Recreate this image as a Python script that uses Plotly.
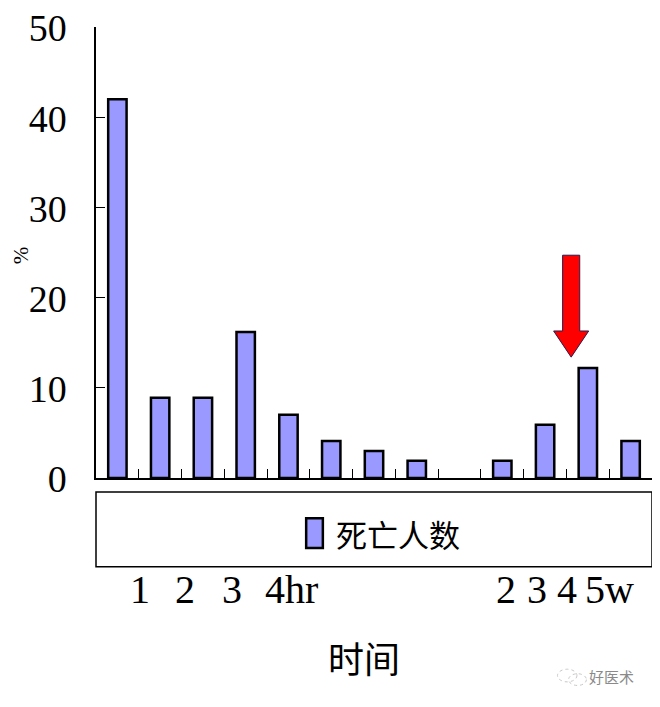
import plotly.graph_objects as go

# bar values (%), slot 8 is left empty in the original
slots = list(range(13))
deaths_pct = [42, 8.9, 8.9, 16.2, 7.0, 4.1, 3.0, 1.9, None, 1.9, 5.9, 12.2, 4.1]

# time labels written under the legend box, at their x positions (slot units)
time_labels = ["1", "2", "3", "4hr", "2", "3", "4", "5w"]
time_label_x = [0.53, 1.59, 2.67, 4.07, 9.09, 9.80, 10.52, 11.5]

y_ticks = [0, 10, 20, 30, 40, 50]

serif = "Liberation Serif, Times New Roman, serif"
cjk = "Noto Sans CJK SC, sans-serif"

fig = go.Figure()
fig.add_trace(go.Bar(
    x=slots,
    y=deaths_pct,
    width=0.43,
    marker=dict(color="#9999FF", line=dict(color="black", width=2.5)),
    name="死亡人数",
    showlegend=False,
))

# page body adds 8px, so margins are trimmed by that
fig.update_layout(
    width=660,
    height=707,
    margin=dict(l=88, r=16, t=19, b=237),
    paper_bgcolor="white",
    plot_bgcolor="white",
    xaxis=dict(
        range=[-0.5, 12.5],
        automargin=False,
        showgrid=False,
        zeroline=False,
        showline=True,
        linecolor="black",
        linewidth=1.5,
        ticks="inside",
        ticklen=9,
        tickcolor="black",
        tickmode="array",
        tickvals=[i - 0.5 for i in range(14)],
        showticklabels=False,
    ),
    yaxis=dict(
        range=[0, 50],
        automargin=False,
        showgrid=False,
        zeroline=False,
        showline=True,
        linecolor="black",
        linewidth=1.5,
        ticks="inside",
        ticklen=9,
        tickcolor="black",
        tickmode="array",
        tickvals=y_ticks,
        ticklabelstandoff=20,
        ticklabelshift=1,
        ticklabeloverflow="allow",
        tickfont=dict(family=serif, size=38, color="black"),
    ),
)

# legend box drawn by hand (tall swatch like the original)
fig.add_shape(type="rect", xref="paper", yref="paper",
              x0=0, x1=1.0, y0=-0.197, y1=-0.031,
              line=dict(color="black", width=1.5), fillcolor="rgba(0,0,0,0)")
fig.add_shape(type="rect", xref="paper", yref="paper",
              x0=0.378, x1=0.408, y0=-0.155, y1=-0.089,
              line=dict(color="black", width=2.5), fillcolor="#9999FF")
fig.add_annotation(text="死亡人数", xref="paper", yref="paper",
                   x=0.428, y=-0.124, xanchor="left", yanchor="middle",
                   showarrow=False, font=dict(family=cjk, size=31, color="black"))

for lab, xv in zip(time_labels, time_label_x):
    fig.add_annotation(text=lab, xref="x", yref="paper", x=xv, y=-0.248,
                       xanchor="center", yanchor="middle", showarrow=False,
                       font=dict(family=serif, size=40, color="black"))

fig.add_annotation(text="时间", xref="paper", yref="paper", x=0.482, y=-0.397,
                   xanchor="center", yanchor="middle", showarrow=False,
                   font=dict(family=cjk, size=36, color="black"))

fig.add_annotation(text="%", xref="paper", yref="paper", x=-0.135, y=0.494,
                   textangle=-90, xanchor="center", yanchor="middle", showarrow=False,
                   font=dict(family=serif, size=21, color="black"))

# red block arrow pointing at the week-4 bar
fig.add_shape(type="path", xref="x", yref="y",
              path="M 10.41,24.7 L 10.81,24.7 L 10.81,16.3 L 11.02,16.3 "
                   "L 10.61,13.4 L 10.2,16.3 L 10.41,16.3 Z",
              fillcolor="#FF0000", line=dict(color="#2a1a4a", width=1))

# watermark
fig.add_shape(type="circle", xref="paper", yref="paper",
              x0=0.83, x1=0.865, y0=-0.452, y1=-0.424,
              line=dict(color="#c8c8c8", width=1, dash="dot"))
fig.add_shape(type="circle", xref="paper", yref="paper",
              x0=0.85, x1=0.882, y0=-0.46, y1=-0.434,
              line=dict(color="#c8c8c8", width=1, dash="dot"))
fig.add_annotation(text="好医术", xref="paper", yref="paper", x=0.928, y=-0.441,
                   xanchor="center", yanchor="middle", showarrow=False,
                   font=dict(family=cjk, size=15, color="#8a8a8a"))

fig.write_html("out.html")
